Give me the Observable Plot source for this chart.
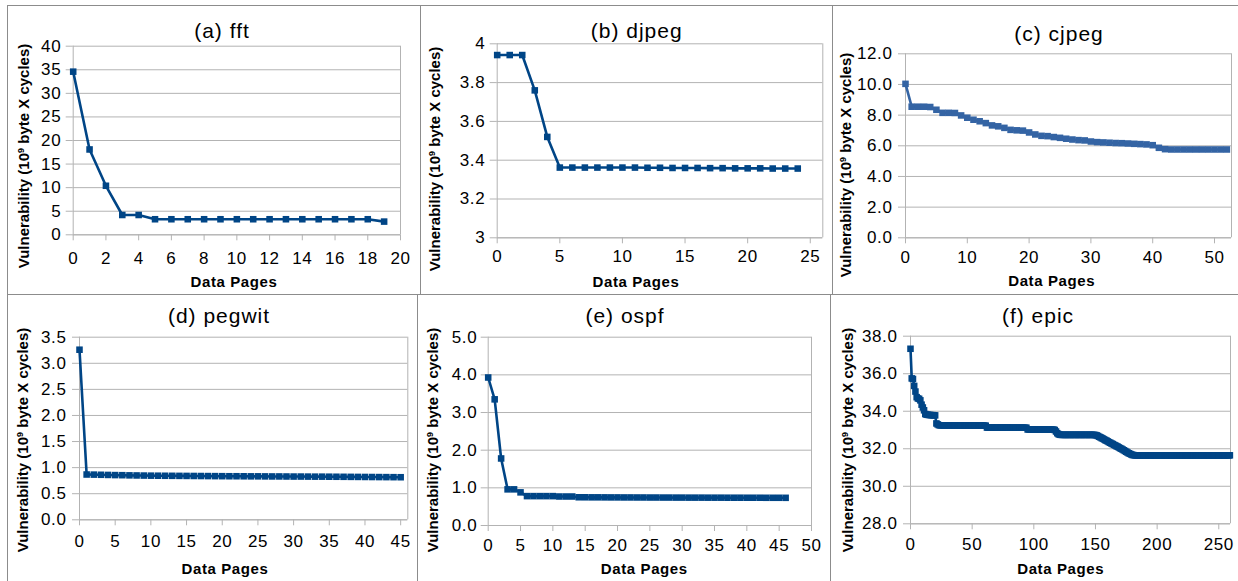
<!DOCTYPE html>
<html><head><meta charset="utf-8">
<script src="https://cdn.jsdelivr.net/npm/d3@7"></script>
<script src="https://cdn.jsdelivr.net/npm/@observablehq/plot@0.6"></script>
<style>
html,body{margin:0;padding:0;background:#fff;}
#root{position:relative;width:1238px;height:581px;overflow:hidden;font-family:"Liberation Sans",Arial,sans-serif;color:#000;}
.panel{position:absolute;border-left:1px solid #8c8c8c;border-top:1px solid #8c8c8c;box-sizing:border-box;}
.lbl{position:absolute;white-space:nowrap;line-height:1;}
.title{font-size:21px;letter-spacing:1px;transform:translate(-50%,-50%);}
.xlab{font-size:15px;font-weight:bold;letter-spacing:0.6px;transform:translate(-50%,-50%);}
.ylab{font-size:15px;font-weight:bold;transform:translate(-50%,-50%) rotate(-90deg);}
.ylab sup{font-size:0.6em;line-height:0;vertical-align:0.55em;}
.wrap{position:absolute;}
.wrap svg{overflow:visible;}
.wrap svg g[aria-label*="tick label"] text{font-size:17px !important;letter-spacing:0.6px;font-family:"Liberation Sans",Arial,sans-serif;}
</style>
</head><body>
<div id="root"></div>
<script>
// ---------- data ----------
const fftYTicks = [0, 5, 10, 15, 20, 25, 30, 35, 40];
const fftXTicks = [0, 2, 4, 6, 8, 10, 12, 14, 16, 18, 20];
const fftVals = [34.6, 18.1, 10.4, 4.2, 4.2, 3.3, 3.3, 3.3, 3.3, 3.3,
                 3.3, 3.3, 3.3, 3.3, 3.3, 3.3, 3.3, 3.3, 3.3, 2.8];

const djpegYTicks = [3, 3.2, 3.4, 3.6, 3.8, 4];
const djpegXTicks = [0, 5, 10, 15, 20, 25];
const djpegVals = [3.942, 3.942, 3.942, 3.76, 3.52, 3.362, 3.362, 3.362, 3.362, 3.362,
                   3.362, 3.362, 3.361, 3.361, 3.360, 3.360, 3.360, 3.359, 3.359, 3.358,
                   3.358, 3.358, 3.357, 3.357, 3.357];

const cjpegYTicks = [0, 2, 4, 6, 8, 10, 12];
const cjpegXTicks = [0, 10, 20, 30, 40, 50];
const cjpegVals = [10.04, 8.55, 8.55, 8.55, 8.53, 8.35, 8.15, 8.15, 8.14, 7.98,
                   7.83, 7.70, 7.60, 7.48, 7.33, 7.27, 7.17, 7.04, 7.01, 6.99,
                   6.87, 6.74, 6.65, 6.63, 6.57, 6.52, 6.46, 6.41, 6.37, 6.35,
                   6.28, 6.24, 6.22, 6.20, 6.18, 6.17, 6.15, 6.13, 6.11, 6.09,
                   6.04, 5.87, 5.78, 5.76, 5.76, 5.76, 5.76, 5.76, 5.76, 5.76,
                   5.76, 5.76, 5.76];

const pegwitYTicks = [0, 0.5, 1, 1.5, 2, 2.5, 3, 3.5];
const pegwitXTicks = [0, 5, 10, 15, 20, 25, 30, 35, 40, 45];
const pegwitVals = [3.26, 0.868, 0.866, 0.863, 0.860, 0.857, 0.855, 0.852, 0.850, 0.848,
                    0.846, 0.845, 0.844, 0.843, 0.842, 0.841, 0.840, 0.839, 0.838, 0.837,
                    0.836, 0.835, 0.835, 0.834, 0.833, 0.833, 0.832, 0.831, 0.831, 0.830,
                    0.829, 0.829, 0.828, 0.827, 0.827, 0.826, 0.825, 0.824, 0.823, 0.822,
                    0.821, 0.820, 0.819, 0.818, 0.817, 0.816];

const ospfYTicks = [0, 1, 2, 3, 4, 5];
const ospfXTicks = [0, 5, 10, 15, 20, 25, 30, 35, 40, 45, 50];
const ospfVals = [3.93, 3.35, 1.78, 0.96, 0.96, 0.88, 0.78, 0.78, 0.78, 0.78,
                  0.78, 0.77, 0.77, 0.77, 0.750, 0.749, 0.748, 0.748, 0.747, 0.746,
                  0.746, 0.745, 0.745, 0.744, 0.744, 0.743, 0.743, 0.742, 0.742, 0.741,
                  0.741, 0.740, 0.740, 0.740, 0.739, 0.739, 0.739, 0.738, 0.738, 0.738,
                  0.737, 0.737, 0.737, 0.736, 0.736, 0.736, 0.735];

const epicYTicks = [28, 30, 32, 34, 36, 38];
const epicXTicks = [0, 50, 100, 150, 200, 250];
const epicVals = [
  37.33, 35.75, 35.72, 35.35, 35.05, 34.75, 34.68, 34.66, 34.58, 34.35,
  34.20, 34.05, 33.85, 33.82, 33.81, 33.80, 33.80, 33.79, 33.79, 33.78,
  33.78, 33.35, 33.30, 33.26, 33.25, 33.25, 33.25, 33.25, 33.25, 33.25,
  33.25, 33.25, 33.25, 33.25, 33.25, 33.25, 33.25, 33.25, 33.25, 33.25,
  33.24, 33.24, 33.24, 33.24, 33.24, 33.24, 33.24, 33.24, 33.24, 33.24,
  33.24, 33.24, 33.24, 33.24, 33.24, 33.24, 33.24, 33.24, 33.24, 33.24,
  33.23, 33.23, 33.13, 33.13, 33.13, 33.13, 33.13, 33.13, 33.13, 33.13,
  33.13, 33.13, 33.13, 33.13, 33.13, 33.13, 33.13, 33.13, 33.13, 33.13,
  33.12, 33.12, 33.12, 33.12, 33.12, 33.12, 33.12, 33.12, 33.12, 33.12,
  33.12, 33.12, 33.12, 33.12, 33.12, 33.03, 33.03, 33.03, 33.03, 33.03,
  33.03, 33.03, 33.03, 33.03, 33.03, 33.03, 33.03, 33.03, 33.03, 33.03,
  33.02, 33.02, 33.02, 33.02, 33.02, 33.02, 33.02, 33.00, 32.92, 32.83,
  32.78, 32.75, 32.74, 32.74, 32.74, 32.74, 32.74, 32.74, 32.74, 32.74,
  32.74, 32.74, 32.74, 32.74, 32.74, 32.74, 32.74, 32.74, 32.74, 32.74,
  32.74, 32.74, 32.74, 32.74, 32.74, 32.74, 32.74, 32.74, 32.74, 32.74,
  32.73, 32.71, 32.68, 32.64, 32.61, 32.57, 32.54, 32.50, 32.46, 32.43,
  32.39, 32.35, 32.32, 32.28, 32.25, 32.21, 32.18, 32.14, 32.11, 32.07,
  32.03, 32.00, 31.96, 31.92, 31.88, 31.84, 31.80, 31.76, 31.73, 31.70,
  31.67, 31.66, 31.65, 31.65, 31.65, 31.65, 31.65, 31.65, 31.65, 31.65,
  31.65, 31.65, 31.65, 31.65, 31.65, 31.65, 31.65, 31.65, 31.65, 31.65,
  31.65, 31.65, 31.65, 31.65, 31.65, 31.65, 31.65, 31.65, 31.65, 31.65,
  31.65, 31.65, 31.65, 31.65, 31.65, 31.65, 31.65, 31.65, 31.65, 31.65,
  31.65, 31.65, 31.65, 31.65, 31.65, 31.65, 31.65, 31.65, 31.65, 31.65,
  31.65, 31.65, 31.65, 31.65, 31.65, 31.65, 31.65, 31.65, 31.65, 31.65,
  31.65, 31.65, 31.65, 31.65, 31.65, 31.65, 31.65, 31.65, 31.65, 31.65,
  31.65, 31.65, 31.65, 31.65, 31.65, 31.65, 31.65, 31.65, 31.65, 31.65];

const titles = ["(a) fft", "(b) djpeg", "(c) cjpeg", "(d) pegwit", "(e) ospf", "(f) epic"];
const xLabel = "Data Pages";
const yLabelHTML = "Vulnerability (10<sup>9</sup> byte X cycles)";

// ---------- layout ----------
const int = d => d3.format("d")(d);
const trim = d => String(d);
const one = d3.format(".1f");
const panels = [
  {title: titles[0], vals: fftVals, xt: fftXTicks, yt: fftYTicks, fmt: int, xd: [0, 20], yd: [0, 40],
   box: [7, 5, 413, 289], area: [72.7, 400, 45.7, 234.3], xPad: 11, yPad: 5,
   tPos: [222, 29.5], xPos: [234, 281], yPos: [23, 156], color: "#004586"},
  {title: titles[1], vals: djpegVals, xt: djpegXTicks, yt: djpegYTicks, fmt: trim, xd: [0, 26], yd: [3, 4],
   box: [420, 5, 412, 289], area: [496.7, 822.3, 43.3, 237.3], xPad: 6.5, yPad: 5,
   tPos: [636.7, 30], xPos: [636, 281], yPos: [434, 159], color: "#004586"},
  {title: titles[2], vals: cjpegVals, xt: cjpegXTicks, yt: cjpegYTicks, fmt: one, xd: [0, 52.75], yd: [0, 12],
   box: [832, 5, 406, 289], area: [905, 1231, 53.3, 237.3], xPad: 7, yPad: 6,
   tPos: [1059, 32.7], xPos: [1051.7, 280], yPos: [845, 165], color: "#3464a4"},
  {title: titles[3], vals: pegwitVals, xt: pegwitXTicks, yt: pegwitYTicks, fmt: one, xd: [0, 46], yd: [0, 3.5],
   box: [7, 294, 410, 287], area: [79, 407.3, 336.7, 519.3], xPad: 9, yPad: 6,
   tPos: [219, 315], xPos: [225, 568], yPos: [22.3, 440], color: "#004586"},
  {title: titles[4], vals: ospfVals, xt: ospfXTicks, yt: ospfYTicks, fmt: one, xd: [0, 50], yd: [0, 5],
   box: [417, 294, 413, 287], area: [487.7, 811, 336.7, 525], xPad: 7, yPad: 4,
   tPos: [625, 315], xPos: [644.3, 568], yPos: [432.3, 440], color: "#004586"},
  {title: titles[5], vals: epicVals, xt: epicXTicks, yt: epicYTicks, fmt: one, xd: [0, 259.5], yd: [28, 38],
   box: [830, 294, 408, 287], area: [910, 1230, 335.7, 523.3], xPad: 8.5, yPad: 6,
   tPos: [1038, 315], xPos: [1060.7, 568], yPos: [847.3, 440], color: "#004586"}
];

const root = document.getElementById("root");
const grid = "#b3b3b3";

for (const p of panels) {
  const [bx, by, bw, bh] = p.box;
  const [ax0, ax1, ay0, ay1] = p.area;

  const border = document.createElement("div");
  border.className = "panel";
  Object.assign(border.style, {left: bx + "px", top: by + "px", width: bw + "px", height: bh + "px"});
  root.appendChild(border);

  const rows = p.vals.map((v, i) => ({page: i, vul: v}));

  const chart = Plot.plot({
    width: bw, height: bh,
    marginLeft: ax0 - bx, marginRight: bx + bw - ax1,
    marginTop: ay0 - by, marginBottom: by + bh - ay1,
    x: {domain: p.xd},
    y: {domain: p.yd},
    style: {fontFamily: "'Liberation Sans', Arial, sans-serif", fontSize: "17px", background: "transparent", color: "#000", overflow: "visible"},
    marks: [
      Plot.gridY(p.yt, {stroke: grid, strokeOpacity: 1, strokeWidth: 1}),
      Plot.ruleX([p.xd[1]], {stroke: grid, strokeWidth: 1}),
      Plot.ruleX([p.xd[0]], {stroke: grid, strokeWidth: 1}),
      Plot.ruleY([p.yd[0]], {stroke: grid, strokeWidth: 1}),
      Plot.axisY(p.yt, {tickSize: 7, tickPadding: p.yPad, tickFormat: p.fmt, stroke: grid, fill: "#000", fontSize: 17, label: null}),
      Plot.axisX(p.xt, {tickSize: 6, tickPadding: p.xPad, tickFormat: int, stroke: grid, fill: "#000", fontSize: 17, label: null}),
      Plot.line(rows, {x: "page", y: "vul", stroke: p.color, strokeWidth: 2.6}),
      Plot.dot(rows, {x: "page", y: "vul", symbol: "square", r: 3.7, fill: p.color, stroke: "none"})
    ]
  });

  const wrap = document.createElement("div");
  wrap.className = "wrap";
  Object.assign(wrap.style, {left: bx + "px", top: by + "px", width: bw + "px", height: bh + "px"});
  wrap.appendChild(chart);
  root.appendChild(wrap);

  const t = document.createElement("div");
  t.className = "lbl title";
  t.textContent = p.title;
  Object.assign(t.style, {left: p.tPos[0] + "px", top: p.tPos[1] + "px"});
  root.appendChild(t);

  const xl = document.createElement("div");
  xl.className = "lbl xlab";
  xl.textContent = xLabel;
  Object.assign(xl.style, {left: p.xPos[0] + "px", top: p.xPos[1] + "px"});
  root.appendChild(xl);

  const yl = document.createElement("div");
  yl.className = "lbl ylab";
  yl.innerHTML = yLabelHTML;
  Object.assign(yl.style, {left: p.yPos[0] + "px", top: p.yPos[1] + "px"});
  root.appendChild(yl);
}
</script>
</body></html>
